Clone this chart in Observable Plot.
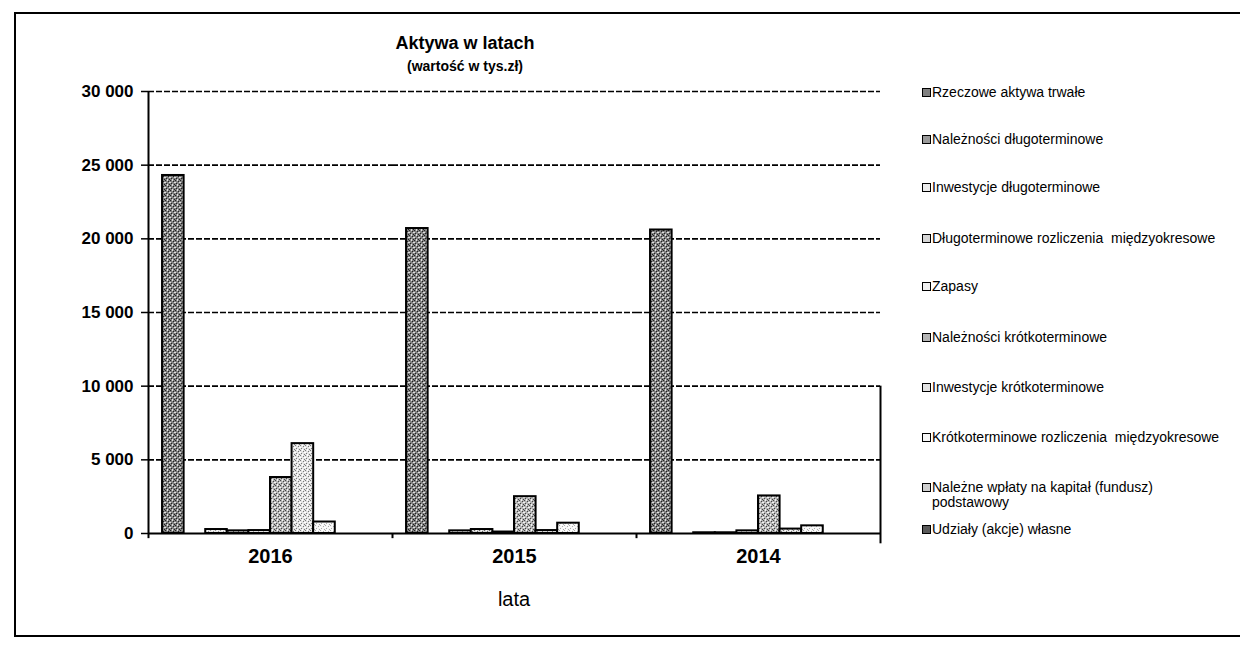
<!DOCTYPE html>
<html>
<head>
<meta charset="utf-8">
<script src="https://cdn.jsdelivr.net/npm/d3@7"></script>
<script src="https://cdn.jsdelivr.net/npm/@observablehq/plot@0.6"></script>
<style>
  html, body { margin: 0; padding: 0; background: #fff; }
  body { width: 1240px; height: 648px; overflow: hidden; position: relative; font-family: "Liberation Sans", Arial, sans-serif; }
  #frame { position: absolute; left: 14px; top: 12px; width: 1240px; height: 625px; border: 2px solid #000; box-sizing: border-box; }
  #chart { position: absolute; left: 0; top: 0; }
  .title { position: absolute; left: 365px; width: 200px; text-align: center; font-weight: bold; color: #000; white-space: nowrap; }
  #t1 { top: 33px; font-size: 18px; }
  #t2 { top: 58px; font-size: 14px; }
  #xlabel { position: absolute; left: 414px; width: 200px; top: 588px; text-align: center; font-size: 20px; color: #000; }
  #legend { position: absolute; left: 0; top: 0; }
  .lg { position: absolute; left: 922px; display: flex; align-items: flex-start; font-size: 14px; color: #000; line-height: 15px; white-space: pre; }
  .sw { width: 9px; height: 9px; border: 1.5px solid #000; box-sizing: border-box; margin-top: 3px; margin-right: 1px; flex: none; }
</style>
</head>
<body>
<div id="frame"></div>
<div id="chart"></div>
<div class="title" id="t1">Aktywa w latach</div>
<div class="title" id="t2">(wartość w tys.zł)</div>
<div id="xlabel">lata</div>
<div id="legend"></div>
<script>
// ---- data ----
const years = ["2016", "2015", "2014"];
const series = [
  "Rzeczowe aktywa trwałe",
  "Należności długoterminowe",
  "Inwestycje długoterminowe",
  "Długoterminowe rozliczenia  międzyokresowe",
  "Zapasy",
  "Należności krótkoterminowe",
  "Inwestycje krótkoterminowe",
  "Krótkoterminowe rozliczenia  międzyokresowe",
  "Należne wpłaty na kapitał (fundusz)\npodstawowy",
  "Udziały (akcje) własne"
];
const rzeczoweAktywa      = [24300, 20700, 20600];
const naleznosciDlugo     = [0, 0, 0];
const inwestycjeDlugo     = [270, 180, 50];
const rozliczeniaDlugo    = [180, 270, 50];
const zapasy              = [200, 100, 180];
const naleznosciKrotko    = [3800, 2500, 2550];
const inwestycjeKrotko    = [6100, 200, 300];
const rozliczeniaKrotko   = [780, 700, 520];
const nalezneWplaty       = [0, 0, 0];
const udzialyWlasne       = [0, 0, 0];
const yTicks = [0, 5000, 10000, 15000, 20000, 25000, 30000];

const seriesValues = [rzeczoweAktywa, naleznosciDlugo, inwestycjeDlugo, rozliczeniaDlugo, zapasy,
  naleznosciKrotko, inwestycjeKrotko, rozliczeniaKrotko, nalezneWplaty, udzialyWlasne];

// stipple patterns: [base, dark dot, light dot]
const patternDefs = [
  ["#808080", "#222", "#e0e0e0"],
  ["#9a9a9a", "#333", "#eee"],
  ["#ececec", "#999", "#fff"],
  ["#d6d6d6", "#666", "#fff"],
  ["#f0f0f0", "#aaa", "#fff"],
  ["#b4b4b4", "#444", "#f4f4f4"],
  ["#e2e2e2", "#777", "#fff"],
  ["#f6f6f6", "#aaa", "#fff"],
  ["#cfcfcf", "#555", "#fff"],
  ["#5a5a5a", "#111", "#ccc"]
];
const fills = patternDefs.map((_, i) => `url(#stip${i})`);

const rows = [];
series.forEach((s, si) => years.forEach((y, yi) => rows.push({year: y, si, series: s, value: seriesValues[si][yi]})));

const fmt = d => d3.format(",")(d).replace(/,/g, " ");
const xMin = -1.15, xMax = 10.15;

const plot = Plot.plot({
  width: 1240,
  height: 648,
  marginLeft: 148,
  marginRight: 360,
  marginTop: 91,
  marginBottom: 115,
  style: {fontFamily: "'Liberation Sans', Arial, sans-serif", background: "transparent", color: "black", overflow: "visible"},
  fx: {domain: years, padding: 0},
  x: {domain: [xMin, xMax], axis: null},
  y: {domain: [0, 30000]},
  color: {domain: series, range: fills},
  marks: [
    Plot.gridY(yTicks.slice(1), {stroke: "black", strokeOpacity: 1, strokeWidth: 1.6, strokeDasharray: "6,2"}),
    Plot.rect(rows, {fx: "year", x1: d => d.si - 0.5, x2: d => d.si + 0.5, y1: 0, y2: "value", fill: "series", stroke: "black", strokeWidth: 2}),
    Plot.ruleY([0], {stroke: "black", strokeWidth: 2}),
    Plot.ruleX(years, {fx: d => d, x: xMin, y1: -350, y2: 0, stroke: "black", strokeWidth: 2}),
    Plot.ruleX([years[0]], {fx: d => d, x: xMin, y1: 0, y2: 30000, stroke: "black", strokeWidth: 2}),
    Plot.ruleX([years[years.length - 1]], {fx: d => d, x: xMax, y1: -700, y2: 10000, stroke: "black", strokeWidth: 2}),
    Plot.axisY(yTicks, {anchor: "left", tickFormat: fmt, tickSize: 7, tickPadding: 8, fontSize: 17, fontWeight: "bold", label: null, stroke: "black", strokeWidth: 1.5}),
    Plot.axisFx({anchor: "bottom", tickSize: 0, tickPadding: 15, fontSize: 20, fontWeight: "bold", label: null})
  ]
});

// stipple pattern definitions
const svgSel = d3.select(plot.tagName.toLowerCase() === "svg" ? plot : plot.querySelector("svg"));
const defs = svgSel.insert("defs", ":first-child");
patternDefs.forEach(([base, dark, light], i) => {
  const p = defs.append("pattern").attr("id", `stip${i}`).attr("patternUnits", "userSpaceOnUse")
    .attr("width", 5).attr("height", 5);
  p.append("rect").attr("width", 5).attr("height", 5).attr("fill", base);
  [[0, 0], [3, 1], [1, 3], [4, 4]].forEach(([x, y]) => p.append("rect").attr("x", x).attr("y", y).attr("width", 1).attr("height", 1).attr("fill", dark));
  [[2, 0], [0, 2], [4, 2], [2, 4]].forEach(([x, y]) => p.append("rect").attr("x", x).attr("y", y).attr("width", 1).attr("height", 1).attr("fill", light));
});
document.getElementById("chart").appendChild(plot);

// ---- legend ----
const rowsY = [93, 140, 188, 239, 287, 338, 388, 438, 488, 530];
const legend = document.getElementById("legend");
series.forEach((s, i) => {
  const row = document.createElement("div");
  row.className = "lg";
  row.style.top = (rowsY[i] - 8) + "px";
  const sw = document.createElement("div");
  sw.className = "sw";
  sw.style.background = patternDefs[i][0];
  const tx = document.createElement("div");
  tx.textContent = s;
  row.appendChild(sw);
  row.appendChild(tx);
  legend.appendChild(row);
});
</script>
</body>
</html>
